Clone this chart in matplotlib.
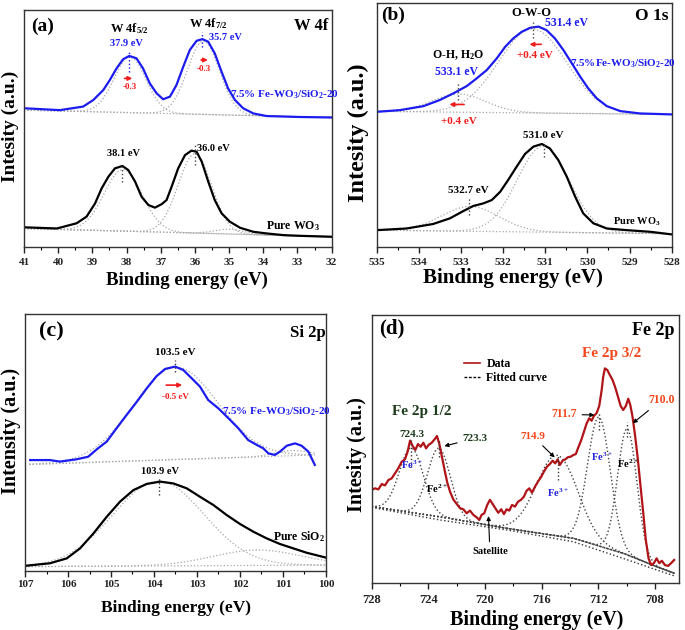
import numpy as np
import matplotlib
matplotlib.use("Agg")
import matplotlib.pyplot as plt
from matplotlib.ticker import MultipleLocator
from matplotlib.lines import Line2D

plt.rcParams['font.family'] = ['Liberation Serif', 'DejaVu Serif']
plt.rcParams['font.weight'] = 'bold'
plt.rcParams['mathtext.default'] = 'regular'

BLUE = '#1c1cf0'
RED = '#f01c1c'
GREY = '#a8a8a8'
ORANGE = '#f5471b'
GREEN = '#1d3b1d'
DARKRED = '#b01418'

# ---------------- (a) W 4f ----------------
w4f_fe_be = [41.00, 39.95, 39.27, 38.97, 38.68, 38.49, 38.29, 38.10, 37.92, 37.71,
             37.52, 37.32, 37.12, 36.93, 36.73, 36.54, 36.34, 36.15, 35.95, 35.78,
             35.61, 35.42, 35.22, 35.03, 34.83, 34.59, 34.29, 33.90, 32.93, 32.00]
w4f_fe_int = [58.5, 57.7, 59.2, 62.0, 66.2, 70.4, 75.4, 79.2, 80.6, 79.6,
              75.4, 69.0, 64.8, 62.3, 63.4, 68.3, 76.1, 83.1, 87.0, 87.7,
              86.6, 81.7, 73.9, 66.9, 62.0, 58.5, 56.3, 55.2, 54.8, 54.6]
w4f_pure_be = [41.00, 40.04, 39.46, 39.17, 38.92, 38.73, 38.53, 38.34, 38.12, 37.95,
               37.75, 37.56, 37.36, 37.17, 36.97, 36.83, 36.68, 36.49, 36.29, 36.10,
               35.95, 35.80, 35.61, 35.42, 35.22, 34.98, 34.68, 34.29, 33.90, 33.42,
               32.93, 32.00]
w4f_pure_int = [8.2, 7.7, 9.9, 12.7, 18.3, 24.6, 29.6, 33.1, 34.1, 32.4,
                27.5, 21.1, 17.6, 16.5, 18.0, 19.7, 25.4, 33.1, 38.7, 40.6,
                40.1, 35.9, 27.5, 19.7, 14.1, 10.6, 8.0, 6.3, 5.6, 4.9,
                4.6, 4.2]
# fitted components: centre (eV), height, FWHM
w4f_fe_peaks = ([37.90, 35.75], [23.5, 31.0], [1.10, 1.10])
w4f_fe_base = (57.7, 54.6)
w4f_pure_peaks = ([38.10, 36.00, 35.00], [26.0, 33.5, 2.0], [1.30, 1.15, 1.00])
w4f_pure_base = (7.7, 4.2)

# ---------------- (b) O 1s ----------------
o1s_fe_be = [535.0, 534.45, 533.89, 533.50, 533.18, 532.86, 532.63, 532.39, 532.15, 531.95,
             531.76, 531.56, 531.36, 531.16, 530.97, 530.77, 530.57, 530.37, 530.17, 529.98,
             529.78, 529.54, 529.22, 528.75, 528.0]
o1s_fe_int = [57.0, 57.7, 59.4, 62.0, 64.8, 67.9, 71.1, 74.6, 79.6, 84.5,
              88.0, 90.8, 92.5, 93.0, 91.5, 88.0, 83.1, 77.5, 71.8, 66.9,
              62.7, 59.4, 57.3, 56.3, 55.9]
o1s_pure_be = [535.0, 534.29, 533.66, 533.26, 532.94, 532.71, 532.47, 532.27, 532.07, 531.88,
               531.68, 531.48, 531.28, 531.08, 530.89, 530.69, 530.49, 530.29, 530.10, 529.86,
               529.54, 529.07, 528.51, 528.0]
o1s_pure_int = [7.0, 7.7, 9.6, 12.0, 15.1, 17.2, 18.3, 19.7, 23.2, 28.2,
                33.8, 39.2, 42.3, 43.4, 41.5, 36.6, 29.6, 21.1, 14.1, 9.9,
                7.7, 7.0, 6.3, 5.2]
o1s_fe_peaks = ([533.05, 531.30], [7.7, 35.5], [1.5, 1.9])
o1s_fe_base = (57.2, 55.9)
o1s_pure_peaks = ([532.78, 531.05], [10.5, 36.3], [1.6, 1.45])
o1s_pure_base = (7.0, 5.5)

# ---------------- (c) Si 2p ----------------
si2p_fe_be = [106.88, 106.42, 106.19, 105.80, 105.53, 105.33, 105.10, 104.87, 104.64, 104.40,
              104.17, 103.94, 103.74, 103.51, 103.32, 103.12, 102.93, 102.74, 102.50, 102.27,
              102.04, 101.81, 101.61, 101.46, 101.34, 101.19, 101.07, 100.91, 100.72, 100.57,
              100.41, 100.26]
si2p_fe_int = [43.1, 43.1, 42.5, 43.4, 44.4, 47.3, 50.3, 55.5, 60.6, 65.8,
               71.0, 75.8, 78.6, 79.5, 78.2, 74.9, 71.7, 66.5, 63.2, 59.4,
               55.5, 50.9, 49.0, 47.7, 45.7, 45.1, 46.4, 48.7, 49.6, 48.7,
               46.4, 41.2]
si2p_pure_be = [107.0, 106.42, 106.03, 105.72, 105.41, 105.10, 104.79, 104.48, 104.17, 103.86,
                103.55, 103.24, 102.93, 102.62, 102.31, 102.00, 101.69, 101.38, 101.07, 100.76,
                100.45, 100.0]
si2p_pure_int = [1.9, 2.9, 4.8, 8.7, 14.5, 21.0, 26.9, 31.4, 33.8, 34.7,
                 34.0, 32.1, 28.8, 25.6, 21.7, 18.2, 15.2, 12.6, 10.4, 8.7,
                 7.0, 5.1]
si2p_fe_peaks = ([103.50, 100.80], [36.0, 2.0], [2.3, 0.9])
si2p_fe_base = (41.4, 45.1)
si2p_pure_peaks = ([103.90, 101.60], [33.0, 6.0], [2.5, 2.4])
si2p_pure_base = (1.6, 2.2)

# ---------------- (d) Fe 2p ----------------
fe2p_be = [728.00, 727.76, 727.53, 727.29, 727.06, 726.82, 726.59, 726.35, 726.12, 725.88,
           725.65, 725.46, 725.29, 725.11, 724.92, 724.73, 724.54, 724.35, 724.16, 723.98,
           723.76, 723.55, 723.39, 723.22, 723.04, 722.85, 722.66, 722.47, 722.24, 722.00,
           721.76, 721.53, 721.29, 721.06, 720.82, 720.59, 720.40, 720.24, 720.05, 719.84,
           719.65, 719.46, 719.27, 719.06, 718.85, 718.66, 718.47, 718.28, 718.09, 717.88,
           717.67, 717.46, 717.25, 717.06, 716.87, 716.68, 716.47, 716.26, 716.05, 715.84,
           715.62, 715.41, 715.22, 715.04, 714.87, 714.71, 714.52, 714.33, 714.14, 713.95,
           713.76, 713.58, 713.39, 713.20, 713.01, 712.82, 712.64, 712.47, 712.31, 712.12,
           711.93, 711.76, 711.65, 711.53, 711.36, 711.18, 710.99, 710.80, 710.61, 710.42,
           710.24, 710.05, 709.88, 709.74, 709.58, 709.39, 709.20, 709.01, 708.82, 708.64,
           708.45, 708.26, 708.07, 707.88, 707.69, 707.51, 707.29, 707.06, 706.82, 706.64]
fe2p_int = [34.8, 35.4, 35.0, 37.0, 36.5, 38.5, 39.1, 41.0, 42.9, 45.3,
            46.2, 49.1, 53.2, 51.2, 49.7, 51.9, 50.9, 52.4, 50.3, 51.6,
            52.4, 53.7, 54.9, 51.9, 47.2, 42.2, 37.5, 34.2, 31.3, 29.6,
            28.0, 27.6, 26.1, 27.1, 25.5, 24.6, 23.6, 25.5, 26.1, 29.2,
            31.1, 29.6, 28.0, 26.3, 27.6, 25.8, 27.6, 27.1, 29.2, 28.6,
            30.4, 31.1, 32.3, 34.5, 35.4, 33.8, 36.0, 37.9, 39.5, 41.6,
            43.5, 44.5, 45.7, 44.7, 46.2, 44.1, 45.7, 46.2, 47.0, 47.2,
            47.8, 48.2, 50.9, 53.4, 56.5, 59.6, 61.5, 60.6, 62.4, 63.4,
            66.1, 72.0, 77.0, 80.1, 79.5, 77.6, 75.8, 73.0, 69.6, 66.1,
            64.6, 66.1, 68.8, 66.5, 62.1, 54.7, 46.0, 36.0, 26.1, 16.1,
            9.3, 6.8, 7.5, 9.3, 7.5, 8.4, 6.8, 6.5, 7.7, 8.7]
fe2p_bg_be = [728.0, 723.18, 718.47, 713.76, 710.24, 707.88, 706.59]
fe2p_bg1 = [28.6, 24.8, 20.5, 16.8, 11.2, 6.2, 3.7]
fe2p_bg2 = [28.3, 23.6, 19.9, 15.5, 9.3, 5.0, 2.7]
fe2p_peaks = ([725.20, 723.25, 714.90, 711.95, 709.95],
              [24.0, 25.5, 30.0, 48.0, 47.0],
              [2.0, 1.9, 3.4, 1.9, 1.6])


def gauss(x, c, h, w):
    s = w / 2.3548
    return h * np.exp(-0.5 * ((x - c) / s) ** 2)


def fig_xy(x, y):
    return x / 685, 1 - y / 630


def style_axis(ax, lo, hi, major, minor, labelsize=8, pad=4, ytop=100):
    ax.set_xlim(lo, hi)
    ax.set_ylim(0, ytop)
    ax.xaxis.set_major_locator(MultipleLocator(major))
    ax.xaxis.set_minor_locator(MultipleLocator(minor))
    ax.set_yticks([])
    ax.tick_params(axis='x', which='major', direction='out', length=4, width=1,
                   pad=pad, labelsize=labelsize, colors='#222222')
    ax.tick_params(axis='x', which='minor', direction='out', length=2.5, width=0.8)
    for sp in ax.spines.values():
        sp.set_linewidth(1.0)
        sp.set_color('#333333')


def draw_fit(ax, lo, hi, peaks, base, color=GREY):
    grid = np.linspace(lo, hi, 400)
    bl = np.interp(grid, [min(lo, hi), max(lo, hi)],
                   [base[0], base[1]] if lo < hi else [base[1], base[0]])
    ax.plot(grid, bl, color=color, ls=':', lw=0.9)
    for c, h, w in zip(*peaks):
        ax.plot(grid, bl + gauss(grid, c, h, w), color=color, ls=':', lw=0.9)


fig = plt.figure(figsize=(6.85, 6.3), dpi=100)

# ---------- panel (a) ----------
ax = fig.add_axes([0.0350, 0.6084, 0.4492, 0.3757])
style_axis(ax, 41, 32, 1, 0.5)
draw_fit(ax, 41, 32, w4f_fe_peaks, w4f_fe_base)
draw_fit(ax, 41, 32, w4f_pure_peaks, w4f_pure_base)
ax.plot(w4f_fe_be, w4f_fe_int, color=BLUE, lw=1.6)
ax.plot(w4f_pure_be, w4f_pure_int, color='black', lw=1.6)
ax.vlines([37.92], 73.9, 83.1, colors=BLUE, linestyles=':', lw=1)
ax.vlines([35.78], 84.5, 90.8, colors=BLUE, linestyles=':', lw=1)
ax.vlines([38.12], 27.5, 34.5, colors='#444444', linestyles=':', lw=1)
ax.vlines([36.00], 34.5, 43.0, colors='#444444', linestyles=':', lw=1)
ax.text(40.46, 93.3, '(a)', fontsize=14, ha='center', va='center')
ax.text(32.1, 93.3, 'W 4f', fontsize=12, ha='right', va='center')
ax.text(37.9, 92.0, 'W 4f$_{5/2}$', fontsize=9, ha='center', va='center')
ax.text(38.0, 85.9, '37.9 eV', fontsize=7.5, ha='center', va='center', color=BLUE)
ax.text(35.6, 94.2, 'W 4f$_{7/2}$', fontsize=9, ha='center', va='center')
ax.text(35.12, 88.5, '35.7 eV', fontsize=7.5, ha='center', va='center', color=BLUE)
ax.annotate('', xy=(37.75, 71.1), xytext=(38.14, 71.1),
            arrowprops=dict(arrowstyle='-|>', color=RED, lw=1.2, mutation_scale=6))
ax.text(37.9, 67.3, '-0.3', fontsize=6.5, ha='center', va='center', color=RED)
ax.annotate('', xy=(35.54, 78.9), xytext=(35.90, 78.9),
            arrowprops=dict(arrowstyle='-|>', color=RED, lw=1.2, mutation_scale=6))
ax.text(35.74, 74.9, '-0.3', fontsize=6.5, ha='center', va='center', color=RED)
ax.text(34.98, 64.1, '7.5% Fe-WO$_3$/SiO$_2$-20', fontsize=8, ha='left', va='center', color=BLUE)
ax.text(38.1, 39.4, '38.1 eV', fontsize=7.5, ha='center', va='center')
ax.text(35.46, 41.5, '36.0 eV', fontsize=7.5, ha='center', va='center')
ax.text(33.12, 8.9, 'Pure WO$_3$', fontsize=8.5, ha='center', va='center')
fig.text(*fig_xy(10, 126), 'Intesity (a.u.)', fontsize=14, rotation=90, ha='center', va='center')
fig.text(*fig_xy(187, 280), 'Binding energy (eV)', fontsize=13.5, ha='center', va='center')

# ---------- panel (b) ----------
ax = fig.add_axes([0.5499, 0.6084, 0.4307, 0.3873])
style_axis(ax, 535, 528, 1, 0.5, ytop=103.1)
draw_fit(ax, 535, 528, o1s_fe_peaks, o1s_fe_base)
draw_fit(ax, 535, 528, o1s_pure_peaks, o1s_pure_base)
ax.plot(o1s_fe_be, o1s_fe_int, color=BLUE, lw=1.6)
ax.plot(o1s_pure_be, o1s_pure_int, color='black', lw=1.6)
ax.vlines([531.30], 88.0, 95.1, colors='#444444', linestyles=':', lw=1)
ax.vlines([533.06], 62.0, 69.0, colors='#444444', linestyles=':', lw=1)
ax.vlines([531.03], 38.0, 44.4, colors='#444444', linestyles=':', lw=1)
ax.vlines([532.80], 13.4, 21.1, colors='#444444', linestyles=':', lw=1)
ax.text(534.6, 97.6, '(b)', fontsize=14, ha='center', va='center')
ax.text(528.08, 97.6, 'O 1s', fontsize=12.5, ha='right', va='center')
ax.text(531.32, 98.6, 'O-W-O', fontsize=9, ha='center', va='center')
ax.text(530.49, 94.6, '531.4 eV', fontsize=8.5, ha='center', va='center', color=BLUE)
ax.annotate('', xy=(531.44, 85.5), xytext=(531.03, 85.5),
            arrowprops=dict(arrowstyle='-|>', color=RED, lw=1.2, mutation_scale=6))
ax.text(531.24, 81.0, '+0.4 eV', fontsize=8, ha='center', va='center', color=RED)
ax.text(533.06, 81.0, 'O-H, H$_2$O', fontsize=8.5, ha='center', va='center')
ax.text(533.1, 73.9, '533.1 eV', fontsize=8.5, ha='center', va='center', color=BLUE)
ax.annotate('', xy=(533.34, 60.1), xytext=(532.86, 60.1),
            arrowprops=dict(arrowstyle='-|>', color=RED, lw=1.2, mutation_scale=6))
ax.text(533.06, 52.8, '+0.4 eV', fontsize=8, ha='center', va='center', color=RED)
ax.text(530.41, 77.5, '7.5%Fe-WO$_3$/SiO$_2$-20', fontsize=8, ha='left', va='center', color=BLUE)
ax.text(531.04, 47.2, '531.0 eV', fontsize=8, ha='center', va='center')
ax.text(532.82, 23.7, '532.7 eV', fontsize=8, ha='center', va='center')
ax.text(528.83, 10.6, 'Pure WO$_3$', fontsize=7.5, ha='center', va='center')
fig.text(*fig_xy(358, 133), 'Intesity (a.u.)', fontsize=17.5, rotation=90, ha='center', va='center')
fig.text(*fig_xy(513, 278), 'Binding energy (eV)', fontsize=15, ha='center', va='center')

# ---------- panel (c) ----------
ax = fig.add_axes([0.0365, 0.0941, 0.4394, 0.4075])
style_axis(ax, 107, 100, 1, 0.5, pad=3)
draw_fit(ax, 106.9, 100.26, si2p_fe_peaks, si2p_fe_base)
draw_fit(ax, 107, 100, si2p_pure_peaks, si2p_pure_base)
ax.plot(si2p_fe_be, si2p_fe_int, color=BLUE, lw=1.6)
ax.plot(si2p_pure_be, si2p_pure_int, color='black', lw=1.6)
ax.vlines([103.50], 77.5, 82.1, colors='#333333', linestyles=':', lw=1)
ax.vlines([103.88], 29.5, 36.6, colors='#333333', linestyles=':', lw=1)
ax.text(106.38, 93.1, '(c)', fontsize=16, ha='center', va='center')
ax.text(100.02, 92.5, 'Si 2p', fontsize=12, ha='right', va='center')
ax.text(103.51, 84.9, '103.5 eV', fontsize=8, ha='center', va='center')
ax.annotate('', xy=(103.28, 72.3), xytext=(103.78, 72.3),
            arrowprops=dict(arrowstyle='-|>', color=RED, lw=1.2, mutation_scale=6))
ax.text(103.51, 67.8, '-0.5 eV', fontsize=6.5, ha='center', va='center', color=RED)
ax.text(102.43, 61.9, '7.5% Fe-WO$_3$/SiO$_2$-20', fontsize=8, ha='left', va='center', color=BLUE)
ax.text(103.86, 38.6, '103.9 eV', fontsize=7.5, ha='center', va='center')
ax.text(100.64, 13.2, 'Pure SiO$_2$', fontsize=8.5, ha='center', va='center')
fig.text(*fig_xy(11, 431), 'Intensity (a.u.)', fontsize=14.5, rotation=90, ha='center', va='center')
fig.text(*fig_xy(176, 608), 'Binding energy (eV)', fontsize=12.5, ha='center', va='center')

# ---------- panel (d) ----------
ax = fig.add_axes([0.5426, 0.0741, 0.4486, 0.4259])
style_axis(ax, 728, 706.3, 4, 2, labelsize=9)
grid = np.linspace(728, 706.6, 500)
bg = np.interp(grid, fe2p_bg_be[::-1], fe2p_bg1[::-1])
ax.plot(fe2p_bg_be, fe2p_bg1, color='#333333', ls=':', lw=1.0)
ax.plot(fe2p_bg_be, fe2p_bg2, color='#333333', ls=':', lw=1.0)
for c, h, w in zip(*fe2p_peaks):
    ax.plot(grid, bg + gauss(grid, c, h, w), color='#444444', ls=':', lw=1.0)
ax.plot(fe2p_be, fe2p_int, color=DARKRED, lw=1.6)
for x0, y0, y1 in [(725.20, 43.5, 53.4), (723.25, 47.0, 53.0), (714.85, 38.5, 47.8),
                   (711.93, 57.1, 64.0), (709.95, 54.7, 60.2)]:
    ax.vlines([x0], y0, y1, colors='#333333', linestyles=':', lw=1)
ax.text(726.59, 95.0, '(d)', fontsize=15, ha='center', va='center')
ax.text(706.6, 94.4, 'Fe 2p', fontsize=13, ha='right', va='center')
leg = ax.legend(handles=[Line2D([], [], color=DARKRED, lw=1.2),
                         Line2D([], [], color='black', lw=1.0, ls=(0, (2, 1.2)))],
                labels=['Data', 'Fitted curve'], loc='upper left',
                bbox_to_anchor=(0.30, 0.84), frameon=False, fontsize=8.5,
                handlelength=1.4, handletextpad=0.5, labelspacing=0.15,
                borderpad=0, borderaxespad=0)
ax.text(711.06, 85.5, 'Fe 2p 3/2', fontsize=11, ha='center', va='center', color=ORANGE)
ax.text(724.47, 64.0, 'Fe 2p 1/2', fontsize=11, ha='center', va='center', color=GREEN)
ax.text(725.18, 55.3, '724.3', fontsize=8, ha='center', va='center', color=GREEN)
ax.annotate('723.3', xy=(723.06, 50.9), xytext=(721.58, 54.0), fontsize=8, color=GREEN,
            ha='left', va='center',
            arrowprops=dict(arrowstyle='-|>', color='black', lw=0.8, mutation_scale=6))
ax.annotate('714.9', xy=(714.94, 46.2), xytext=(716.59, 54.7), fontsize=8, color=ORANGE,
            ha='center', va='center',
            arrowprops=dict(arrowstyle='-|>', color='black', lw=0.8, mutation_scale=6))
ax.annotate('711.7', xy=(712.07, 62.7), xytext=(713.53, 63.0), fontsize=8.5, color=ORANGE,
            ha='right', va='center',
            arrowprops=dict(arrowstyle='-|>', color='black', lw=0.8, mutation_scale=6))
ax.annotate('710.0', xy=(709.72, 59.0), xytext=(708.47, 68.3), fontsize=8.5, color=ORANGE,
            ha='left', va='center',
            arrowprops=dict(arrowstyle='-|>', color='black', lw=0.8, mutation_scale=6))
ax.annotate('Satellite', xy=(719.76, 26.1), xytext=(719.65, 11.8), fontsize=7.5,
            ha='center', va='center',
            arrowprops=dict(arrowstyle='-|>', color='black', lw=0.8, mutation_scale=6))
ax.text(725.18, 44.1, 'Fe$^{3+}$', fontsize=7.5, ha='center', va='center', color='#2222dd')
ax.text(723.41, 35.4, 'Fe$^{2+}$', fontsize=7.5, ha='center', va='center')
ax.text(714.82, 33.8, 'Fe$^{3+}$', fontsize=7.5, ha='center', va='center', color='#2222dd')
ax.text(711.76, 47.2, 'Fe$^{3+}$', fontsize=7.5, ha='center', va='center', color='#2222dd')
ax.text(709.88, 44.7, 'Fe$^{2+}$', fontsize=7.5, ha='center', va='center')
fig.text(*fig_xy(357, 455), 'Intesity (a.u.)', fontsize=14.5, rotation=90, ha='center', va='center')
fig.text(*fig_xy(537, 620), 'Binding energy (eV)', fontsize=14.5, ha='center', va='center')

fig.savefig('out.png', dpi=100)
